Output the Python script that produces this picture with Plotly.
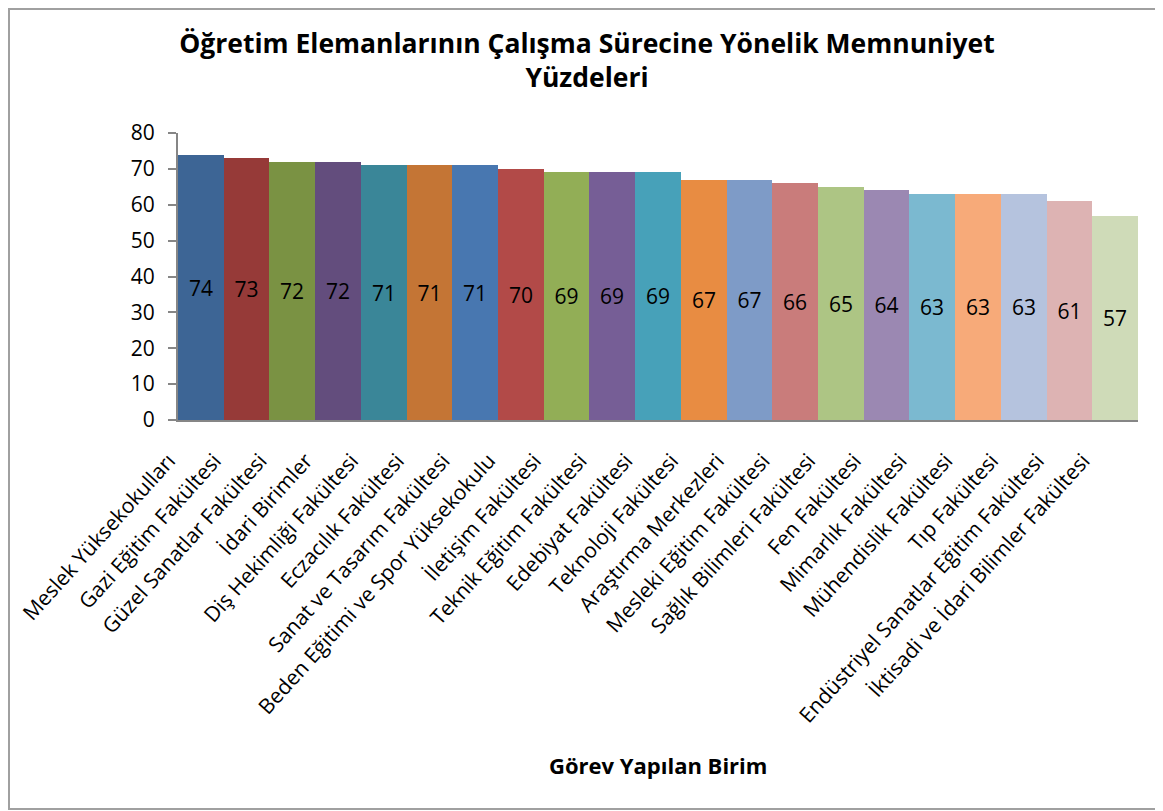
import plotly.graph_objects as go

categories = [
    "Meslek Yüksekokulları", "Gazi Eğitim Fakültesi", "Güzel Sanatlar Fakültesi",
    "İdari Birimler", "Diş Hekimliği Fakültesi", "Eczacılık Fakültesi",
    "Sanat ve Tasarım Fakültesi", "Beden Eğitimi ve Spor Yüksekokulu",
    "İletişim Fakültesi", "Teknik Eğitim Fakültesi", "Edebiyat Fakültesi",
    "Teknoloji Fakültesi", "Araştırma Merkezleri", "Mesleki Eğitim Fakültesi",
    "Sağlık Bilimleri Fakültesi", "Fen Fakültesi", "Mimarlık Fakültesi",
    "Mühendislik Fakültesi", "Tıp Fakültesi", "Endüstriyel Sanatlar Eğitim Fakültesi",
    "İktisadi ve İdari Bilimler Fakültesi",
]
values = [74, 73, 72, 72, 71, 71, 71, 70, 69, 69, 69, 67, 67, 66, 65, 64, 63, 63, 63, 61, 57]
colors = [
    "#3D6595", "#963A38", "#7A9243", "#634D7D", "#3A8698", "#C47535", "#4877B0",
    "#B24A48", "#92AE56", "#765E96", "#47A1B9", "#E88C42", "#7E9BC7", "#C97C7B",
    "#ADC584", "#9B88B2", "#7BB9D0", "#F7AA79", "#B5C3DE", "#DDB3B3", "#CFDBB8",
]
y_ticks = [0, 10, 20, 30, 40, 50, 60, 70, 80]

title_text = "<b>Öğretim Elemanlarının Çalışma Sürecine Yönelik Memnuniyet<br>Yüzdeleri</b>"
x_title = "<b>Görev Yapılan Birim</b>"

FONT = "'Open Sans', sans-serif"

# page body has an 8px margin; figure coordinates = page coordinates - 8
PL, PT, PW, PH = 170, 125, 960, 287
W, H = 1163, 811

fig = go.Figure(
    go.Bar(
        x=categories,
        y=values,
        marker=dict(color=colors, line=dict(width=0)),
        text=[str(v) for v in values],
        textposition="inside",
        insidetextanchor="middle",
        textangle=0,
        textfont=dict(size=21, color="black", family=FONT),
        cliponaxis=False,
    )
)

fig.update_layout(
    width=W,
    height=H,
    margin=dict(l=PL, r=W - PL - PW, t=PT, b=H - PT - PH),
    paper_bgcolor="white",
    plot_bgcolor="white",
    bargap=0,
    showlegend=False,
    font=dict(family=FONT, color="black"),
    title=dict(
        text=title_text,
        x=(587 - 8) / W,
        xanchor="center",
        xref="container",
        y=1 - 45 / H,
        yanchor="top",
        font=dict(size=26.5, color="black", family=FONT),
    ),
    uniformtext=dict(minsize=21, mode="show"),
)

fig.update_xaxes(
    type="category",
    tickangle=-48,
    tickfont=dict(size=21, color="black", family=FONT),
    ticklabelshift=-32,
    ticklabelstandoff=18,
    showline=True,
    linecolor="#868686",
    linewidth=2,
    ticks="",
    showgrid=False,
    automargin=False,
)
fig.update_yaxes(
    range=[0, 80],
    tickvals=y_ticks,
    tickfont=dict(size=21, color="black", family=FONT),
    showline=True,
    linecolor="#868686",
    linewidth=2,
    ticks="outside",
    ticklen=8,
    tickwidth=2,
    tickcolor="#868686",
    ticklabelstandoff=9,
    showgrid=False,
    zeroline=False,
    automargin=False,
)

fig.add_annotation(
    text=x_title,
    xref="paper", yref="paper",
    x=0.5, y=(PT + PH - (765 - 8)) / PH,
    xanchor="center", yanchor="middle",
    showarrow=False,
    font=dict(size=22, color="black", family=FONT),
)

fig.add_shape(
    type="rect",
    xref="paper", yref="paper",
    x0=(1 - PL) / PW, x1=(W + 20 - PL) / PW,
    y0=(PT + PH - 801) / PH, y1=(PT + PH - 1) / PH,
    line=dict(color="#A0A0A0", width=2),
    fillcolor="rgba(0,0,0,0)",
    layer="below",
)

fig.write_html("out.html")
